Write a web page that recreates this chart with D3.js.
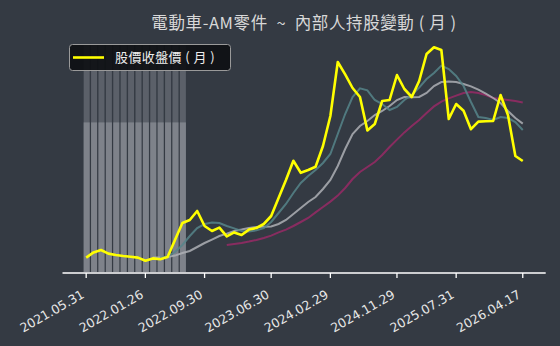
<!DOCTYPE html>
<html>
<head>
<meta charset="utf-8">
<script src="https://cdn.jsdelivr.net/npm/d3@7"></script>
<style>
  html, body { margin: 0; padding: 0; background: #343a43; }
  svg { display: block; }
  text { white-space: pre; }
</style>
</head>
<body>
<div id="chart"></div>
<script>
// monthly close, 2021.05 .. 2026.04
const price = [3.6, 4.9, 5.5, 4.6, 4.25, 4.0, 3.8, 3.6, 2.8, 3.4, 3.2, 3.75, 8.0, 12.25, 13.0, 15.25,
  11.5, 10.25, 11.1, 8.9, 9.9, 9.25, 10.6, 11.0, 12.0, 14.0, 18.5, 23.0, 27.8, 24.8, 25.5, 26.3,
  31.5, 39.0, 52.5, 49.4, 46.0, 43.75, 35.4, 37.0, 42.75, 43.0, 49.25, 45.75, 43.75, 47.75, 54.5,
  56.2, 55.5, 38.25, 42.0, 40.3, 35.7, 37.6, 37.7, 37.75, 44.25, 39.25, 29.0, 27.75];

// moving averages (start index, values)
const maShortStart = 10;
const maShort = [3.6, 3.9, 5.0, 6.75, 9.0, 11.0, 12.0, 12.4, 12.25, 11.5, 10.9, 10.25, 10.1, 10.4,
  11.0, 12.5, 14.75, 17.0, 19.75, 22.25, 24.0, 25.5, 27.25, 29.5, 34.5, 39.5, 43.75, 45.9, 45.4,
  43.0, 42.0, 40.5, 41.25, 43.0, 44.25, 46.1, 48.25, 49.75, 51.6, 50.75, 49.0, 46.5, 42.5, 38.75,
  38.5, 38.0, 38.75, 38.5, 37.5, 35.5];
const maMidStart = 9;
const maMid = [3.6, 3.6, 3.75, 4.1, 4.75, 5.25, 6.25, 7.25, 8.1, 9.0, 9.6, 10.25, 10.6, 11.0, 11.25,
  11.3, 11.4, 12.0, 13.0, 14.5, 16.0, 17.5, 18.75, 20.75, 23.0, 26.5, 30.75, 34.5, 36.5, 37.75,
  39.25, 40.25, 41.5, 43.0, 43.75, 43.7, 43.75, 44.75, 46.5, 47.5, 47.6, 47.5, 47.0, 46.4, 45.6,
  44.6, 43.5, 42.25, 40.25, 38.5, 37.1];
const maLongStart = 19;
const maLong = [6.75, 7.0, 7.25, 7.6, 8.0, 8.5, 9.1, 9.9, 10.6, 11.5, 12.5, 13.5, 14.9, 16.25, 17.6,
  19.1, 21.0, 23.25, 25.0, 26.25, 27.5, 29.25, 31.25, 33.1, 34.9, 36.5, 38.0, 39.75, 41.4, 42.6,
  43.4, 44.1, 44.75, 45.0, 44.75, 44.25, 43.5, 43.25, 43.0, 42.75, 42.4];

// insider holdings (%), first 14 months
const holdLow = [65.9, 65.9, 65.9, 65.9, 65.9, 65.9, 65.9, 65.9, 65.9, 65.9, 65.9, 65.9, 65.9, 65.9];
const holdTotal = [100, 100, 100, 100, 100, 100, 100, 100, 100, 100, 100, 100, 100, 100];

const tickIndex = [0, 8, 16, 25, 33, 42, 50, 59];
const tickLabels = ["2021.05.31", "2022.01.26", "2022.09.30", "2023.06.30",
  "2024.02.29", "2024.11.29", "2025.07.31", "2026.04.17"];

const title = "電動車-AM零件  ~  內部人持股變動 ( 月 )";
const legendLabel = "股價收盤價 ( 月 )";

const width = 560;
const height = 346;
const cjk = "'Noto Sans CJK TC', 'Noto Sans CJK SC', sans-serif";

const svg = d3.select("#chart")
  .append("svg")
  .attr("width", width)
  .attr("height", height);

svg.append("rect").attr("width", width).attr("height", height).attr("fill", "#343a43");

const x = d3.scaleLinear().domain([-3.2, 62.1]).range([62.5, 545.7]);
const y = d3.scaleLinear().domain([0, 58]).range([272, 40]);
const yHold = d3.scaleLinear().domain([0, 100]).range([272, 45]);
const step = x(1) - x(0);

// holdings bars
const bars = svg.append("g");
bars.selectAll("rect.total")
  .data(holdTotal)
  .join("rect")
  .attr("x", (d, i) => x(i) - step / 2 + 1.2)
  .attr("width", step - 1.4)
  .attr("y", d => yHold(d))
  .attr("height", d => yHold(0) - yHold(d))
  .attr("fill", "#5b6069");
bars.selectAll("rect.low")
  .data(holdLow)
  .join("rect")
  .attr("x", (d, i) => x(i) - step / 2 + 1.2)
  .attr("width", step - 1.4)
  .attr("y", d => yHold(d))
  .attr("height", d => yHold(0) - yHold(d))
  .attr("fill", "#7e828a");

const line = d3.line()
  .x(d => x(d[0]))
  .y(d => y(d[1]));

function series(values, start) {
  return values.map((v, i) => [start + i, v]);
}

svg.append("path")
  .datum(series(maLong, maLongStart))
  .attr("d", line)
  .attr("fill", "none")
  .attr("stroke", "#8d2b62")
  .attr("stroke-width", 2)
  .attr("stroke-opacity", 0.95);

svg.append("path")
  .datum(series(maMid, maMidStart))
  .attr("d", line)
  .attr("fill", "none")
  .attr("stroke", "#aeb0b5")
  .attr("stroke-width", 2)
  .attr("stroke-opacity", 0.85);

svg.append("path")
  .datum(series(maShort, maShortStart))
  .attr("d", line)
  .attr("fill", "none")
  .attr("stroke", "#56858a")
  .attr("stroke-width", 2)
  .attr("stroke-opacity", 0.85);

svg.append("path")
  .datum(series(price, 0))
  .attr("d", line)
  .attr("fill", "none")
  .attr("stroke", "#ffff00")
  .attr("stroke-width", 2.6)
  .attr("stroke-linejoin", "round");

// x axis
const axis = svg.append("g").attr("transform", `translate(0,${y(0) + 1})`);
axis.append("line")
  .attr("x1", x.range()[0]).attr("x2", x.range()[1])
  .attr("stroke", "#ffffff").attr("stroke-width", 1.3);
const ticks = axis.selectAll("g.tick")
  .data(tickIndex)
  .join("g")
  .attr("class", "tick")
  .attr("transform", d => `translate(${x(d)},0)`);
ticks.append("line").attr("y2", 5).attr("stroke", "#ffffff").attr("stroke-width", 1.3);
ticks.append("text")
  .attr("transform", "translate(-1,24) rotate(-30)")
  .attr("text-anchor", "end")
  .attr("fill", "#e8e8e8")
  .attr("font-family", "'DejaVu Sans', sans-serif")
  .attr("font-size", 12.5)
  .text((d, i) => tickLabels[i]);

// title
svg.append("text")
  .attr("x", (x.range()[0] + x.range()[1]) / 2)
  .attr("y", 29)
  .attr("text-anchor", "middle")
  .attr("fill", "#d8d8d8")
  .attr("font-family", cjk)
  .attr("font-size", 16.5)
  .attr("letter-spacing", 0.6)
  .text(title);

// legend
const legend = svg.append("g");
legend.append("rect")
  .attr("x", 69.5).attr("y", 44.5)
  .attr("width", 161).attr("height", 26)
  .attr("rx", 3)
  .attr("fill", "#0e1013")
  .attr("fill-opacity", 0.92)
  .attr("stroke", "#9a9a9a")
  .attr("stroke-width", 1);
legend.append("line")
  .attr("x1", 73).attr("x2", 104)
  .attr("y1", 57.5).attr("y2", 57.5)
  .attr("stroke", "#ffff00").attr("stroke-width", 2.6);
legend.append("text")
  .attr("x", 115).attr("y", 62)
  .attr("fill", "#eeeeee")
  .attr("font-family", cjk)
  .attr("font-size", 13)
  .attr("letter-spacing", 0.4)
  .text(legendLabel);
</script>
</body>
</html>
